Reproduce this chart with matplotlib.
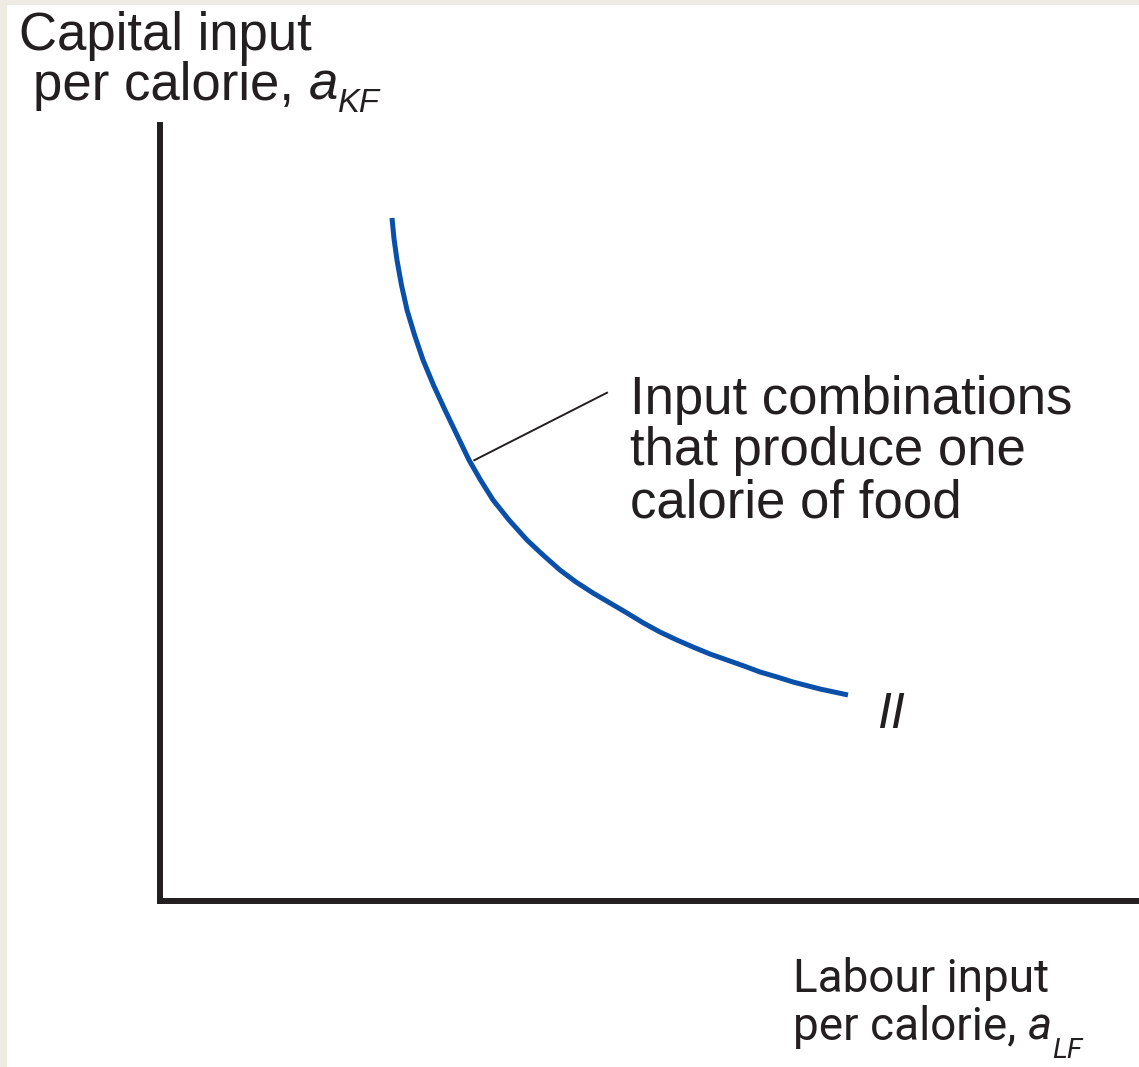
import matplotlib.pyplot as plt
from matplotlib.patches import Rectangle

# isoquant II (axis units 0..10)
labour = [2.377, 2.398, 2.428, 2.474, 2.531, 2.608, 2.695, 2.802, 2.920,
          3.043, 3.166, 3.284, 3.412, 3.576, 3.760, 3.924, 4.098, 4.262,
          4.436, 4.611, 4.785, 4.954, 5.123, 5.297, 5.461, 5.635, 5.809,
          5.984, 6.148, 6.322, 6.486, 6.762, 7.049]
capital = [8.802, 8.531, 8.260, 7.938, 7.616, 7.294, 6.972, 6.649, 6.327,
           6.005, 5.683, 5.425, 5.168, 4.910, 4.652, 4.459, 4.265, 4.111,
           3.969, 3.840, 3.711, 3.582, 3.466, 3.363, 3.273, 3.183, 3.106,
           3.028, 2.951, 2.887, 2.822, 2.732, 2.655]

# leader line from curve to the note
leader_x = [3.22, 4.58]
leader_y = [5.68, 6.55]

note = "Input combinations\nthat produce one\ncalorie of food"
curve_label = "II"

W, H = 1139, 1067
ink = '#231f20'
blue = '#0a4fa8'

fig = plt.figure(figsize=(W / 100, H / 100), dpi=100)
fig.patch.set_facecolor('white')

# beige frame strips on the left and top
fig.add_artist(Rectangle((0, 0), 7 / W, 1, transform=fig.transFigure,
                         color='#eeebe3', lw=0))
fig.add_artist(Rectangle((0, 1 - 5 / H), 1, 5 / H, transform=fig.transFigure,
                         color='#eeebe3', lw=0))

ax = fig.add_axes([160 / W, (H - 901) / H, (1136 - 160) / W, (901 - 125) / H])
ax.set_xlim(0, 10)
ax.set_ylim(0, 10)
ax.set_facecolor('none')
for s in ['top', 'right']:
    ax.spines[s].set_visible(False)
for s in ['left', 'bottom']:
    ax.spines[s].set_linewidth(4.3)
    ax.spines[s].set_color(ink)
ax.set_xticks([])
ax.set_yticks([])

ax.plot(labour, capital, color=blue, lw=3.6, solid_capstyle='butt',
        solid_joinstyle='round')
ax.plot(leader_x, leader_y, color=ink, lw=1.4)

ax.text(630 / W, (H - 517) / H, note, transform=fig.transFigure,
        fontsize=38, family='Liberation Sans', color=ink,
        va='baseline', ha='left', linespacing=1.04)
ax.text(891 / W, (H - 728) / H, curve_label, transform=fig.transFigure,
        fontsize=36, family='Liberation Sans', style='italic', color=ink,
        va='baseline', ha='center')

renderer = fig.canvas.get_renderer()


def label_with_sub(x, y, text, sym, sub, size, family, sub_drop):
    # plain text, then italic symbol, then lowered italic subscript
    t = fig.text(x / W, (H - y) / H, text, fontsize=size, family=family,
                 color=ink, va='baseline')
    x1 = t.get_window_extent(renderer).x1
    t2 = fig.text(x1 / W, (H - y) / H, sym, fontsize=size, family=family,
                  style='italic', color=ink, va='baseline')
    x2 = t2.get_window_extent(renderer).x1
    fig.text(x2 / W, (H - y - sub_drop) / H, sub, fontsize=size * 0.62,
             family=family, style='italic', color=ink, va='baseline')


fig.text(19 / W, (H - 50) / H, "Capital input", fontsize=38,
         family='Liberation Sans', color=ink, va='baseline')
label_with_sub(33, 100, "per calorie, ", "a", "KF", 38, 'Liberation Sans', 12)

fig.text(793 / W, (H - 992) / H, "Labour input", fontsize=33,
         family='Roboto', color=ink, va='baseline')
label_with_sub(793, 1040, "per calorie, ", "a", "LF", 33, 'Roboto', 18)

fig.savefig('out.png', dpi=100)
